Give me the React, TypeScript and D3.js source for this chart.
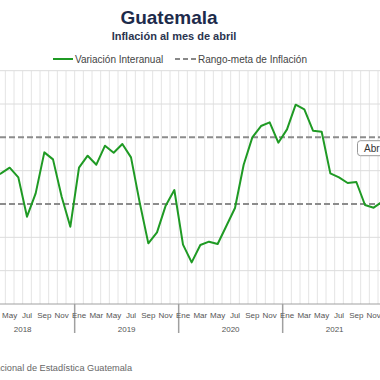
import React from "react";
import * as d3 from "d3";

const monthNames = ["Ene", "Feb", "Mar", "Abr", "May", "Jun", "Jul", "Ago", "Sep", "Oct", "Nov", "Dic"];
const years = [2018, 2019, 2020, 2021];
// year-over-year inflation, starting March 2018
const startYear = 2018;
const startMonth = 2; // March (0-based)
const inflation = [
  3.8, 3.92, 4.09, 3.8, 2.62, 3.32, 4.55, 4.34, 3.22, 2.32,
  4.09, 4.45, 4.18, 4.75, 4.54, 4.8, 4.4, 3.05, 1.82, 2.15, 2.95, 3.42,
  1.78, 1.25, 1.77, 1.87, 1.8, 2.34, 2.88, 4.18, 5.0, 5.34, 5.45, 4.84,
  5.24, 5.98, 5.84, 5.2, 5.17, 3.92, 3.8, 3.63, 3.66, 2.97, 2.89, 3.07,
];
const targetRange = [3, 5];
const yTicks = [0, 1, 2, 3, 4, 5, 6, 7];
const title = "Guatemala";
const subtitle = "Inflación al mes de abril";
const legendLine = "Variación Interanual";
const legendDash = "Rango-meta de Inflación";
const source = "Fuente: Instituto Nacional de Estadística Guatemala";
const tooltipLabel = "Abr";

export default function App() {
  const W = 380, H = 380;
  const months: string[] = [];
  years.forEach((y) => monthNames.forEach((m, i) => months.push(`${y}-${i}`)));
  const x = d3.scaleBand<string>().domain(months).range([-29.33, 386.67]).padding(0);
  const y = d3.scaleLinear().domain([0, 7]).range([304, 70.7]);
  const bw = x.bandwidth();
  const pts = inflation.map((v, i) => {
    const idx = startMonth + i;
    const key = `${startYear + Math.floor(idx / 12)}-${idx % 12}`;
    return [x(key)! + bw / 2, y(v)] as [number, number];
  });
  const line = d3.line();
  const font = "'Liberation Sans', Arial, sans-serif";
  const labelMonths = months.filter((m) => {
    const c = x(m)! + bw / 2;
    return +m.split("-")[1] % 2 === 0 && c > 4 && c < W - 4;
  });
  return (
    <svg width={W} height={H} style={{ position: "absolute", left: 0, top: 0, background: "#fff" }} fontFamily={font}>
      <text x={169} y={24} textAnchor="middle" fontSize={19} fontWeight="bold" fill="#1d2b4b">{title}</text>
      <text x={174} y={40} textAnchor="middle" fontSize={11} fontWeight="bold" fill="#2b3550">{subtitle}</text>
      {/* legend */}
      <line x1={53} x2={73} y1={59} y2={59} stroke="#1f9a24" strokeWidth={2} />
      <text x={75} y={62.5} fontSize={10} fill="#444">{legendLine}</text>
      <line x1={175} x2={197} y1={59} y2={59} stroke="#888" strokeWidth={2} strokeDasharray="5,3" />
      <text x={198} y={62.5} fontSize={10} fill="#444">{legendDash}</text>
      {/* vertical grid */}
      {months.map((m) => (
        <line key={m} x1={x(m)!} x2={x(m)!} y1={y(7)} y2={y(0)} stroke="#e4e4e4" strokeWidth={1} />
      ))}
      {/* horizontal grid */}
      {yTicks.filter((t) => !targetRange.includes(t) && t > 0).map((t) => (
        <line key={t} x1={0} x2={W} y1={y(t)} y2={y(t)} stroke="#dcdcdc" strokeWidth={1} />
      ))}
      {targetRange.map((t) => (
        <line key={t} x1={0} x2={W} y1={y(t)} y2={y(t)} stroke="#8c8c8c" strokeWidth={2} strokeDasharray="6,3" />
      ))}
      {/* axis */}
      <line x1={0} x2={W} y1={y(0)} y2={y(0)} stroke="#a0a0a0" strokeWidth={1} />
      {years.slice(1).map((yr) => (
        <line key={yr} x1={x(`${yr}-0`)!} x2={x(`${yr}-0`)!} y1={y(0)} y2={333} stroke="#a0a0a0" strokeWidth={1.5} />
      ))}
      {labelMonths.map((m) => (
        <text key={m} x={x(m)! + bw / 2} y={317.5} textAnchor="middle" fontSize={8} fill="#555">
          {monthNames[+m.split("-")[1]]}
        </text>
      ))}
      {years.map((yr) => (
        <text key={yr} x={x(`${yr}-0`)! + bw * 6} y={332} textAnchor="middle" fontSize={8} fill="#555">{yr}</text>
      ))}
      {/* series */}
      <path d={line(pts)!} fill="none" stroke="#1f9a24" strokeWidth={2} strokeLinejoin="round" />
      {/* tooltip label */}
      <rect x={357.5} y={140.7} width={40} height={15} rx={3} fill="#fff" stroke="#999" strokeWidth={1} />
      <text x={364} y={152} fontSize={10} fill="#333">{tooltipLabel}</text>
      <text x={132} y={371} textAnchor="end" fontSize={9.2} fill="#666">{source}</text>
    </svg>
  );
}
